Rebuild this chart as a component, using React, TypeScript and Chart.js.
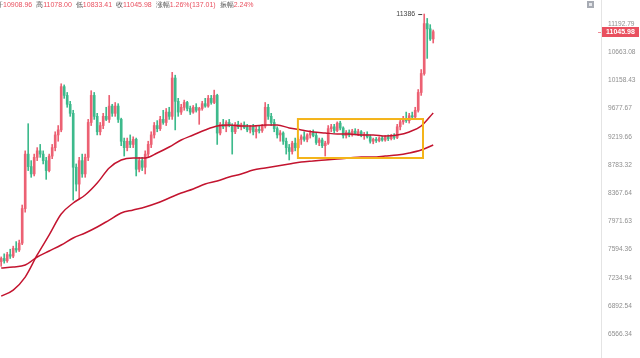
import React, { useEffect, useRef } from "react";
import { Chart, registerables } from "chart.js";

Chart.register(...registerables);

// Daily candles (index 0 = oldest)
const OPEN = [
  7440, 7480, 7450, 7530, 7510, 7610, 7590, 7680, 8150, 8950,
  8760, 8650, 8900, 9000, 8950, 8850, 8700, 8920, 9050, 9250,
  9330, 10050, 9900, 9750, 9600, 8750, 8500, 8850, 8650, 8900,
  9450, 9900, 9550, 9300, 9400, 9550, 9500, 9720, 9600, 9720,
  9500, 9150, 9050, 9150, 9100, 9180, 8720, 8850, 8750, 8950,
  9100, 9250, 9400, 9350, 9500, 9450, 9620, 9550, 10200, 9800,
  9620, 9700, 9780, 9680, 9620, 9700, 9650, 9680, 9760, 9720,
  9850, 9780, 9900, 9280, 9420, 9380, 9450, 9400, 9300, 9420,
  9380, 9410, 9370, 9330, 9380, 9300, 9340, 9320, 9390, 9700,
  9550, 9450, 9350, 9250, 9280, 9150, 9050, 8990, 9120, 9050,
  9180, 9220, 9180, 9250, 9280, 9240, 9130, 9170, 9080, 9120,
  9350, 9380, 9320, 9440, 9360, 9240, 9290, 9250, 9310, 9270,
  9300, 9240, 9260, 9220, 9150, 9180, 9160, 9200, 9170, 9220,
  9190, 9240, 9210, 9380, 9460, 9500, 9480, 9560, 9540, 9650,
  9950, 10280, 11200, 11100, 10908.96,
];
const HIGH = [
  7500, 7540, 7560, 7600, 7640, 7700, 7720, 8200, 9000, 9430,
  8850, 8950, 9050, 9100, 9000, 8900, 8950, 9100, 9300, 9400,
  10100, 10080, 9950, 9800, 9650, 8800, 8900, 8950, 8950, 9500,
  9980, 9950, 9600, 9450, 9600, 9700, 9900, 9750, 9780, 9760,
  9520, 9200, 9200, 9250, 9220, 9200, 8900, 8900, 9000, 9150,
  9300, 9450, 9480, 9550, 9650, 9680, 9700, 10300, 10250, 9850,
  9750, 9820, 9800, 9720, 9730, 9760, 9700, 9800, 9850, 9900,
  9900, 9990, 9920, 9450, 9500, 9480, 9500, 9430, 9450, 9470,
  9440, 9460, 9420, 9400, 9420, 9380, 9400, 9420, 9780, 9750,
  9600, 9500, 9380, 9320, 9300, 9200, 9100, 9150, 9200, 9200,
  9250, 9300, 9270, 9320, 9330, 9280, 9200, 9200, 9150, 9400,
  9420, 9420, 9460, 9470, 9380, 9320, 9330, 9340, 9350, 9340,
  9320, 9290, 9300, 9250, 9200, 9210, 9220, 9230, 9240, 9250,
  9260, 9270, 9420, 9500, 9550, 9620, 9600, 9620, 9700, 10000,
  10350, 11386, 11300, 11180, 11078.0,
];
const LOW = [
  7380, 7420, 7430, 7480, 7490, 7560, 7570, 7660, 8100, 8700,
  8600, 8620, 8850, 8900, 8800, 8570, 8680, 8880, 9000, 9150,
  9300, 9850, 9700, 9550, 8270, 8400, 8280, 8600, 8600, 8850,
  9400, 9500, 9250, 9250, 9350, 9480, 9450, 9550, 9550, 9450,
  9080, 8920, 9000, 9050, 9050, 8620, 8680, 8700, 8650, 8900,
  9050, 9200, 9300, 9320, 9420, 9400, 9500, 9500, 9330, 9550,
  9580, 9650, 9640, 9580, 9600, 9620, 9420, 9650, 9700, 9700,
  9750, 9760, 9100, 9250, 9350, 9300, 9380, 8950, 9270, 9350,
  9330, 9350, 9300, 9280, 9250, 9200, 9280, 9290, 9360, 9500,
  9400, 9300, 9200, 9150, 9100, 8950, 8860, 8950, 9000, 9030,
  9100, 9150, 9140, 9200, 9220, 9100, 9080, 9050, 8920, 9100,
  9300, 9280, 9300, 9330, 9200, 9200, 9220, 9230, 9250, 9240,
  9220, 9180, 9200, 9120, 9110, 9130, 9140, 9150, 9150, 9160,
  9170, 9180, 9190, 9330, 9420, 9450, 9440, 9500, 9520, 9620,
  9900, 10250, 10550, 10880, 10833.41,
];
const CLOSE = [
  7480, 7450, 7530, 7510, 7610, 7590, 7680, 8150, 8950, 8760,
  8650, 8900, 9000, 8950, 8850, 8700, 8920, 9050, 9250, 9330,
  10050, 9900, 9750, 9600, 8750, 8500, 8850, 8650, 8900, 9450,
  9900, 9550, 9300, 9400, 9550, 9500, 9720, 9600, 9720, 9500,
  9150, 9050, 9150, 9100, 9180, 8720, 8850, 8750, 8950, 9100,
  9250, 9400, 9350, 9500, 9450, 9620, 9550, 10200, 9800, 9620,
  9700, 9780, 9680, 9620, 9700, 9650, 9680, 9760, 9720, 9850,
  9780, 9900, 9280, 9420, 9380, 9450, 9400, 9300, 9420, 9380,
  9410, 9370, 9330, 9380, 9300, 9340, 9320, 9390, 9700, 9550,
  9450, 9350, 9250, 9280, 9150, 9050, 8990, 9120, 9050, 9180,
  9220, 9180, 9250, 9280, 9240, 9130, 9170, 9080, 9120, 9350,
  9380, 9320, 9440, 9360, 9240, 9290, 9250, 9310, 9270, 9300,
  9240, 9260, 9220, 9150, 9180, 9160, 9200, 9170, 9220, 9190,
  9240, 9210, 9380, 9460, 9500, 9480, 9560, 9540, 9650, 9950,
  10280, 11200, 11100, 10908.96, 11045.98,
];

// Moving averages, sampled every fourth candle
const MA_INDEX = [
  0, 4, 8, 12, 16, 20, 24, 28, 32, 36, 40, 44, 48, 52, 56, 60, 64, 68, 72,
  76, 80, 84, 88, 92, 96, 100, 104, 108, 112, 116, 120, 124, 128, 132, 136,
  140, 144,
];
const MA_SHORT = [
  7012, 7085, 7245, 7525, 7790, 8074, 8228, 8342, 8516, 8739, 8860, 8890,
  8890, 8967, 9060, 9170, 9249, 9329, 9393, 9409, 9393, 9393, 9409, 9409,
  9361, 9329, 9297, 9281, 9265, 9265, 9249, 9249, 9233, 9249, 9297, 9393,
  9605,
];
const MA_LONG = [
  7358, 7371, 7396, 7499, 7577, 7655, 7748, 7815, 7896, 7991, 8088, 8130,
  8172, 8228, 8299, 8371, 8429, 8502, 8545, 8604, 8649, 8709, 8739, 8769,
  8799, 8829, 8845, 8860, 8875, 8890, 8906, 8906, 8921, 8936, 8967, 9013,
  9091,
];

// Price axis labels (log spaced)
const PRICE_TICKS = [
  11192.79, 10663.08, 10158.43, 9677.67, 9219.66, 8783.32, 8367.64, 7971.63,
  7594.36, 7234.94, 6892.54, 6566.34,
];

// Consolidation range highlighted with a box: [first index, last index], [low, high]
const RANGE_SPAN = [98.9, 140.6];
const RANGE_PRICE = [8890, 9506];

// Quote header for the latest candle
const QUOTE_LABELS = ["开", "高", "低", "收", "涨幅", "振幅"];
const QUOTE_VALUES = ["10908.96", "11078.00", "10833.41", "11045.98", "1.26%(137.01)", "2.24%"];

const UP = "#ec6173";
const DOWN = "#3dba8c";
const MA_COLOR = "#c3142f";
const FONT = '"Liberation Sans", Arial, sans-serif';

const candleColor = (i: number) => (CLOSE[i] >= OPEN[i] ? UP : DOWN);

const overlayPlugin = {
  id: "overlay",
  afterDatasetsDraw(chart: any) {
    const { ctx, chartArea } = chart;
    const x = chart.scales.x;
    const y = chart.scales.y;
    ctx.save();

    // range box
    const bx1 = x.getPixelForValue(RANGE_SPAN[0]);
    const bx2 = x.getPixelForValue(RANGE_SPAN[1]);
    const by1 = y.getPixelForValue(RANGE_PRICE[1]);
    const by2 = y.getPixelForValue(RANGE_PRICE[0]);
    ctx.strokeStyle = "#f4b41a";
    ctx.lineWidth = 2;
    ctx.strokeRect(bx1, by1, bx2 - bx1, by2 - by1);

    // highest high marker
    let hi = 0;
    HIGH.forEach((v, i) => {
      if (v > HIGH[hi]) hi = i;
    });
    const hx = x.getPixelForValue(hi);
    const hy = y.getPixelForValue(HIGH[hi]);
    ctx.font = `7px ${FONT}`;
    ctx.fillStyle = "#444";
    ctx.textAlign = "right";
    ctx.textBaseline = "middle";
    ctx.fillText(String(HIGH[hi]), hx - 9, hy + 0.5);
    ctx.fillRect(hx - 6, hy, 4, 1);

    // last price tag
    const last = CLOSE[CLOSE.length - 1];
    const py = Math.round(y.getPixelForValue(last));
    const ax = chartArea.right;
    ctx.fillStyle = "#f08a96";
    ctx.fillRect(ax - 3, py, 3, 1);
    ctx.fillStyle = "#e9505f";
    ctx.fillRect(ax + 1, py - 5, 37, 10);
    ctx.fillStyle = "#fff";
    ctx.textAlign = "left";
    ctx.font = `bold 7px ${FONT}`;
    ctx.fillText(last.toFixed(2), ax + 5, py + 0.5);

    // quote header
    ctx.font = `7px ${FONT}`;
    ctx.textBaseline = "alphabetic";
    let tx = -4;
    QUOTE_LABELS.forEach((label, k) => {
      ctx.fillStyle = "#555";
      ctx.fillText(label, tx, 7);
      tx += ctx.measureText(label).width;
      ctx.fillStyle = "#e9505f";
      ctx.fillText(QUOTE_VALUES[k], tx, 7);
      tx += ctx.measureText(QUOTE_VALUES[k]).width + 4;
    });

    // settings icon
    ctx.fillStyle = "#a7abb3";
    ctx.fillRect(587, 1, 7, 7);
    ctx.fillStyle = "#e6e8ec";
    ctx.fillRect(589, 3, 3, 3);

    ctx.restore();
  },
};

export default function App() {
  const ref = useRef<HTMLCanvasElement | null>(null);

  useEffect(() => {
    if (!ref.current) return;
    const idx = CLOSE.map((_, i) => i);
    const chart = new Chart(ref.current, {
      type: "bar",
      data: {
        datasets: [
          {
            type: "line",
            data: MA_INDEX.map((v, k) => ({ x: v, y: MA_SHORT[k] })),
            borderColor: MA_COLOR,
            borderWidth: 1.5,
            pointRadius: 0,
            cubicInterpolationMode: "monotone",
            order: 0,
          } as any,
          {
            type: "line",
            data: MA_INDEX.map((v, k) => ({ x: v, y: MA_LONG[k] })),
            borderColor: MA_COLOR,
            borderWidth: 1.5,
            pointRadius: 0,
            cubicInterpolationMode: "monotone",
            order: 0,
          } as any,
          {
            type: "bar",
            data: idx.map((i) => ({ x: i, y: [OPEN[i], CLOSE[i]] })),
            backgroundColor: idx.map(candleColor),
            barThickness: 2,
            minBarLength: 1,
            grouped: false,
            order: 1,
          } as any,
          {
            type: "bar",
            data: idx.map((i) => ({ x: i, y: [LOW[i], HIGH[i]] })),
            backgroundColor: idx.map(candleColor),
            barThickness: 1,
            grouped: false,
            order: 2,
          } as any,
        ],
      },
      options: {
        responsive: false,
        devicePixelRatio: 1,
        animation: false,
        layout: { padding: 0 },
        plugins: { legend: { display: false }, tooltip: { enabled: false } },
        scales: {
          x: {
            type: "linear",
            min: -0.4,
            max: 199.93,
            offset: false,
            bounds: "data",
            display: false,
            grid: { offset: false },
          },
          y: {
            type: "logarithmic",
            position: "right",
            min: 6304,
            max: 11664,
            bounds: "data",
            grid: { display: false, drawTicks: false },
            border: { display: true, color: "#e4e4e4", width: 1 },
            afterFit: (s: any) => {
              s.width = 39;
              s.paddingTop = 0;
              s.paddingBottom = 0;
            },
            afterBuildTicks: (s: any) => {
              s.ticks = PRICE_TICKS.map((v) => ({ value: v }));
            },
            ticks: {
              color: "#8f8f8f",
              padding: 7,
              font: { size: 6.6, family: FONT },
              callback: (v: any) => Number(v).toFixed(2),
            },
          },
        },
      } as any,
      plugins: [overlayPlugin],
    });
    return () => chart.destroy();
  }, []);

  return (
    <div style={{ position: "fixed", left: 0, top: 0, width: 640, height: 358, background: "#fff" }}>
      <canvas ref={ref} width={640} height={358} />
    </div>
  );
}
